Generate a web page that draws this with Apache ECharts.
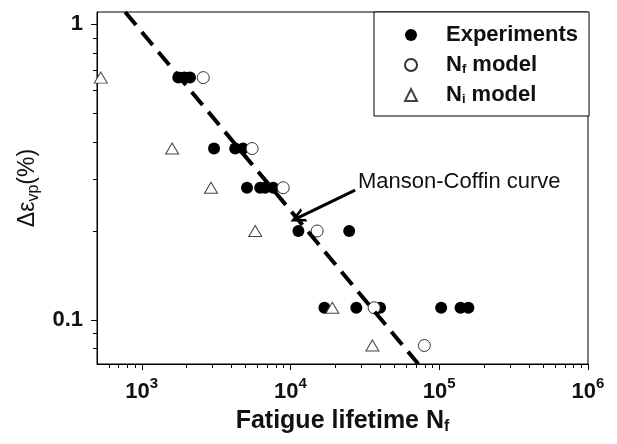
<!DOCTYPE html>
<html>
<head>
<meta charset="utf-8">
<title>Fatigue lifetime</title>
<script src="https://cdn.jsdelivr.net/npm/echarts@6/dist/echarts.min.js"></script>
<style>
html, body { margin: 0; padding: 0; background: #fff; }
#main { width: 617px; height: 444px; }
</style>
</head>
<body>
<div id="main"></div>
<script>
var FONT = '"Liberation Sans", Arial, sans-serif';

// axis ticks
var xTicks = [1e3, 1e4, 1e5, 1e6];
var xMinorTicks = [600, 700, 800, 900,
    2000, 3000, 4000, 5000, 6000, 7000, 8000, 9000,
    20000, 30000, 40000, 50000, 60000, 70000, 80000, 90000,
    200000, 300000, 400000, 500000, 600000, 700000, 800000, 900000];
var yTicks = [0.1, 1];
var yMinorTicks = [0.08, 0.09, 0.2, 0.3, 0.4, 0.5, 0.6, 0.7, 0.8, 0.9];

// [N, delta eps vp (%)]
var experiments = [
    [1760, 0.66], [1930, 0.66], [2110, 0.66],
    [3060, 0.38], [4250, 0.38], [4800, 0.38],
    [5100, 0.28], [6250, 0.28], [6750, 0.28], [7650, 0.28],
    [11300, 0.2], [24800, 0.2],
    [16900, 0.11], [27700, 0.11], [40000, 0.11], [103000, 0.11], [139000, 0.11], [157000, 0.11]
];
var nfModel = [[2590, 0.66], [5520, 0.38], [8930, 0.28], [15100, 0.2], [36500, 0.11], [79400, 0.082]];
var niModel = [[530, 0.66], [1600, 0.38], [2920, 0.28], [5790, 0.2], [19100, 0.11], [35500, 0.082]];
var mansonCoffin = [[773, 1.1], [72300, 0.071]];
var arrowFrom = [27200, 0.275];
var arrowTo = [11100, 0.221];

var chart = echarts.init(document.getElementById('main'));

var axisLineStyle = { color: '#000', width: 1 };

var option = {
    animation: false,
    backgroundColor: '#fff',
    grid: {
        left: 97, right: 29, top: 12, bottom: 80,
        show: true, borderColor: '#000', borderWidth: 1,
        outerBoundsMode: 'none'
    },
    legend: {
        orient: 'vertical',
        left: 374, top: 12,
        padding: [12, 11, 10, 30],
        itemGap: 8,
        itemWidth: 12, itemHeight: 12,
        borderColor: '#000', borderWidth: 1, borderRadius: 0,
        backgroundColor: '#fff',
        data: ['Experiments', 'Nf model', 'Ni model'],
        formatter: function(name) {
            if (name == 'Nf model') return 'N{s|f} model';
            if (name == 'Ni model') return 'N{s|i} model';
            return name;
        },
        textStyle: {
            fontFamily: FONT, fontWeight: 'bold', fontSize: 22, color: '#111',
            padding: [0, 0, 0, 24],
            rich: {
                s: { fontFamily: FONT, fontWeight: 'bold', fontSize: 13, color: '#111', padding: [9, 0, 0, 0] }
            }
        }
    },
    xAxis: [{
        type: 'log', logBase: 10, min: 500, max: 1e6,
        position: 'bottom',
        name: 'Fatigue lifetime N{s|f}',
        nameLocation: 'middle', nameGap: 43,
        nameTextStyle: {
            fontFamily: FONT, fontWeight: 'bold', fontSize: 25, color: '#111',
            rich: {
                s: { fontFamily: FONT, fontWeight: 'bold', fontSize: 16, color: '#111', padding: [12, 0, 0, 0] }
            }
        },
        axisLine: { lineStyle: axisLineStyle },
        axisTick: { customValues: xTicks, length: 6, lineStyle: axisLineStyle },
        axisLabel: {
            customValues: xTicks,
            margin: 12,
            formatter: function(v) {
                return '{b|10}{s|' + Math.round(Math.log10(v)) + '}';
            },
            rich: {
                b: { fontFamily: FONT, fontWeight: 'bold', fontSize: 22, color: '#111', padding: [5, 0, 0, 0] },
                s: { fontFamily: FONT, fontWeight: 'bold', fontSize: 15, color: '#111', verticalAlign: 'top' }
            }
        },
        splitLine: { show: false }
    }, {
        type: 'log', logBase: 10, min: 500, max: 1e6,
        position: 'bottom',
        axisLine: { show: false },
        axisTick: { customValues: xMinorTicks, length: 4, lineStyle: axisLineStyle },
        axisLabel: { show: false },
        splitLine: { show: false }
    }],
    yAxis: [{
        type: 'log', logBase: 10, min: 0.071, max: 1.1,
        position: 'left',
        name: 'Δε{s|vp}(%)',
        nameLocation: 'middle', nameGap: 48, nameRotate: 90,
        nameTextStyle: {
            fontFamily: FONT, fontSize: 23, color: '#111',
            rich: {
                s: { fontFamily: FONT, fontSize: 16, color: '#111', padding: [11, 0, 0, 0] }
            }
        },
        axisLine: { lineStyle: axisLineStyle },
        axisTick: { customValues: yTicks, length: 6, lineStyle: axisLineStyle },
        axisLabel: {
            customValues: yTicks,
            margin: 14,
            fontFamily: FONT, fontWeight: 'bold', fontSize: 22, color: '#111',
            formatter: function(v) { return String(Number(v.toPrecision(3))); }
        },
        splitLine: { show: false }
    }, {
        type: 'log', logBase: 10, min: 0.071, max: 1.1,
        position: 'left',
        axisLine: { show: false },
        axisTick: { customValues: yMinorTicks, length: 4, lineStyle: axisLineStyle },
        axisLabel: { show: false },
        splitLine: { show: false }
    }],
    graphic: [{
        type: 'text', left: 358, top: 171, z: 10,
        style: { text: 'Manson-Coffin curve', font: '22px ' + FONT, fill: '#111' }
    }],
    series: [{
        name: 'Experiments', type: 'scatter', z: 2,
        symbol: 'circle', symbolSize: 12,
        itemStyle: { color: '#000', opacity: 1 },
        emphasis: { disabled: true },
        data: experiments
    }, {
        name: 'Nf model', type: 'scatter', z: 3,
        symbol: 'circle', symbolSize: 12,
        itemStyle: { color: '#fff', borderColor: '#333', borderWidth: 1, opacity: 1 },
        emphasis: { disabled: true },
        data: nfModel
    }, {
        name: 'Ni model', type: 'scatter', z: 4,
        symbol: 'triangle', symbolSize: [13, 11],
        itemStyle: { color: '#fff', borderColor: '#444', borderWidth: 1, opacity: 1 },
        emphasis: { disabled: true },
        data: niModel
    }, {
        name: 'Manson-Coffin', type: 'line', z: 5,
        symbol: 'none',
        lineStyle: { color: '#000', width: 4, type: [17, 9] },
        emphasis: { disabled: true },
        data: mansonCoffin,
        markLine: {
            silent: true,
            symbol: ['none', 'path://M5,0 L10,10 L8,10 L5,4 L2,10 L0,10 Z'],
            symbolSize: [15, 15],
            label: { show: false },
            lineStyle: { color: '#000', width: 3, type: 'solid' },
            data: [[{ coord: arrowFrom }, { coord: arrowTo }]]
        }
    }]
};

chart.setOption(option);
</script>
</body>
</html>
